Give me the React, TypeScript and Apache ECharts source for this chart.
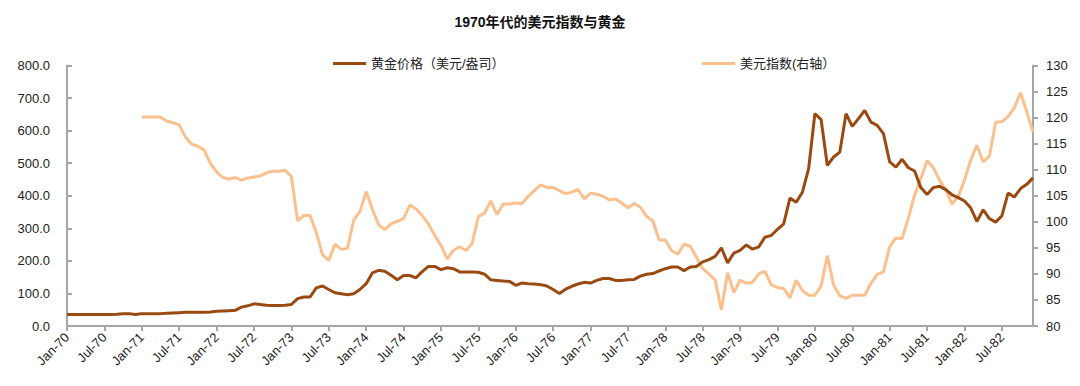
import React, { useEffect, useRef } from "react";
import * as echarts from "echarts";

const MONTHS = ["Jan", "Feb", "Mar", "Apr", "May", "Jun", "Jul", "Aug", "Sep", "Oct", "Nov", "Dec"];
const YEARS = [70, 71, 72, 73, 74, 75, 76, 77, 78, 79, 80, 81, 82];
const categories: string[] = [];
YEARS.forEach((y) => MONTHS.forEach((m) => categories.push(`${m}-${y}`)));

const gold1970 = [35, 35, 35, 35, 35, 35, 35, 35, 36, 37.5, 38, 35];
const gold1971 = [38, 38, 38, 38, 39, 40, 41, 42, 42, 42, 42, 43];
const gold1972 = [45, 46, 47, 48, 58, 62, 68, 66, 64, 63, 63, 64];
const gold1973 = [66, 84, 89, 89, 117, 123, 112, 102, 99, 96, 99, 112];
const gold1974 = [130, 163, 171, 168, 156, 142, 155, 155, 148, 167, 183, 183];
const gold1975 = [173, 179, 176, 166, 166, 166, 165, 159, 142, 140, 138, 137];
const gold1976 = [125, 132, 130, 129, 127, 123, 112, 100, 113, 122, 129, 134];
const gold1977 = [132, 140, 146, 146, 140, 140, 142, 143, 153, 159, 161, 169];
const gold1978 = [176, 181, 181, 170, 181, 183, 197, 204, 214, 240, 194, 224];
const gold1979 = [232, 249, 236, 243, 273, 278, 297, 314, 393, 380, 411, 483];
const gold1980 = [652, 634, 493, 519, 534, 652, 613, 637, 662, 626, 616, 591];
const gold1981 = [504, 488, 512, 486, 476, 425, 404, 425, 429, 419, 403, 394];
const gold1982 = [384, 363, 321, 357, 330, 319, 338, 408, 396, 422, 435, 455];

const usd1970 = [null, null, null, null, null, null, null, null, null, null, null, null];
const usd1971 = [120.1, 120.1, 120.1, 120.1, 119.3, 119.0, 118.6, 116.3, 114.9, 114.5, 113.8, 111.2];
const usd1972 = [109.6, 108.5, 108.2, 108.5, 108.0, 108.4, 108.6, 108.8, 109.4, 109.7, 109.7, 109.9];
const usd1973 = [108.7, 100.2, 101.2, 101.2, 97.9, 93.7, 92.6, 95.7, 94.7, 94.9, 100.3, 102.0];
const usd1974 = [105.8, 102.4, 99.4, 98.5, 99.6, 100.1, 100.6, 103.2, 102.5, 101.2, 99.6, 97.4];
const usd1975 = [95.5, 92.9, 94.5, 95.2, 94.5, 95.8, 101.0, 101.7, 104.0, 101.4, 103.4, 103.4];
const usd1976 = [103.6, 103.5, 104.9, 106.0, 107.1, 106.6, 106.6, 106.0, 105.4, 105.7, 106.2, 104.4];
const usd1977 = [105.5, 105.3, 104.9, 104.2, 104.4, 103.6, 102.7, 103.5, 102.8, 101.0, 100.2, 96.5];
const usd1978 = [96.5, 94.5, 93.8, 95.7, 95.3, 93.2, 91.0, 90.0, 88.8, 83.1, 90.2, 86.4];
const usd1979 = [88.8, 88.2, 88.4, 90.0, 90.5, 87.9, 87.4, 87.2, 85.4, 88.8, 86.8, 85.9];
const usd1980 = [85.9, 87.7, 93.5, 87.9, 85.8, 85.3, 85.9, 85.9, 85.9, 88.2, 89.9, 90.4];
const usd1981 = [95.2, 96.9, 96.8, 100.7, 105.1, 108.3, 111.7, 110.4, 108.0, 106.2, 103.4, 104.8];
const usd1982 = [108.0, 111.8, 114.7, 111.5, 112.6, 119.1, 119.2, 120.2, 121.9, 124.8, 121.1, 117.3];

const goldValues = [
  ...gold1970, ...gold1971, ...gold1972, ...gold1973, ...gold1974, ...gold1975, ...gold1976,
  ...gold1977, ...gold1978, ...gold1979, ...gold1980, ...gold1981, ...gold1982,
];
const usdValues = [
  ...usd1970, ...usd1971, ...usd1972, ...usd1973, ...usd1974, ...usd1975, ...usd1976,
  ...usd1977, ...usd1978, ...usd1979, ...usd1980, ...usd1981, ...usd1982,
];

const TITLE = "1970年代的美元指数与黄金";
const GOLD_NAME = "黄金价格（美元/盎司）";
const USD_NAME = "美元指数(右轴）";

const FONT = "Arial, 'Liberation Sans', 'Noto Sans CJK SC', sans-serif";
const GOLD_COLOR = "#9A4A10";
const USD_COLOR = "#FBC08E";
const AXIS_COLOR = "#A6A6A6";
const TEXT_COLOR = "#222222";

export default function App() {
  const ref = useRef<HTMLDivElement>(null);
  useEffect(() => {
    document.body.style.margin = "0";
    if (!ref.current) return;
    const chart = echarts.init(ref.current, null, { renderer: "svg" });
    chart.setOption({
      animation: false,
      backgroundColor: "#ffffff",
      title: {
        text: TITLE,
        left: "center",
        top: 10,
        textStyle: { fontFamily: FONT, fontSize: 14, fontWeight: "bold", color: "#111" },
      },
      legend: [
        {
          data: [GOLD_NAME],
          left: 328,
          top: 52,
          itemWidth: 33,
          itemHeight: 3,
          itemGap: 6,
          icon: "rect",
          textStyle: { fontFamily: FONT, fontSize: 13, color: TEXT_COLOR },
        },
        {
          data: [USD_NAME],
          left: 697,
          top: 52,
          itemWidth: 33,
          itemHeight: 3,
          icon: "rect",
          textStyle: { fontFamily: FONT, fontSize: 13, color: TEXT_COLOR },
        },
      ],
      grid: { left: 67, right: 47, top: 65.5, bottom: 60, containLabel: false },
      xAxis: {
        type: "category",
        data: categories,
        boundaryGap: false,
        axisLine: { lineStyle: { color: AXIS_COLOR, width: 2 } },
        axisTick: { interval: 5, length: 5, lineStyle: { color: AXIS_COLOR, width: 2 } },
        axisLabel: {
          interval: 5,
          rotate: 45,
          fontFamily: FONT,
          fontSize: 13,
          color: TEXT_COLOR,
          margin: 9,
        },
        splitLine: { show: false },
      },
      yAxis: [
        {
          type: "value",
          min: 0,
          max: 800,
          interval: 100,
          axisLine: { show: true, lineStyle: { color: AXIS_COLOR, width: 2 } },
          axisTick: { show: true, inside: true, length: 5, lineStyle: { color: AXIS_COLOR, width: 2 } },
          axisLabel: {
            formatter: (v: number) => v.toFixed(1),
            fontFamily: FONT,
            fontSize: 13,
            color: TEXT_COLOR,
            margin: 17,
          },
          splitLine: { show: false },
        },
        {
          type: "value",
          min: 80,
          max: 130,
          interval: 5,
          position: "right",
          axisLine: { show: true, lineStyle: { color: AXIS_COLOR, width: 2 } },
          axisTick: { show: true, length: 5, lineStyle: { color: AXIS_COLOR, width: 2 } },
          axisLabel: { fontFamily: FONT, fontSize: 13, color: TEXT_COLOR, margin: 13 },
          splitLine: { show: false },
        },
      ],
      series: [
        {
          name: GOLD_NAME,
          type: "line",
          data: goldValues,
          yAxisIndex: 0,
          showSymbol: false,
          symbol: "none",
          lineStyle: { color: GOLD_COLOR, width: 3 },
          itemStyle: { color: GOLD_COLOR },
          z: 3,
        },
        {
          name: USD_NAME,
          type: "line",
          data: usdValues,
          yAxisIndex: 1,
          showSymbol: false,
          symbol: "none",
          connectNulls: false,
          lineStyle: { color: USD_COLOR, width: 3 },
          itemStyle: { color: USD_COLOR },
          z: 2,
        },
      ],
    });
    return () => chart.dispose();
  }, []);
  return <div ref={ref} style={{ width: 1080, height: 386 }} />;
}
